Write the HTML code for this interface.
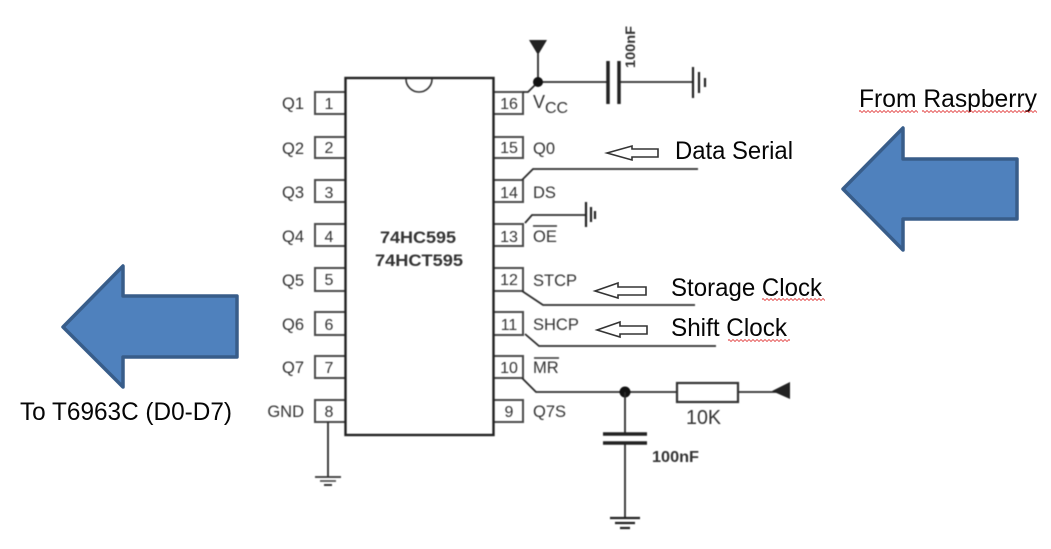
<!DOCTYPE html>
<html>
<head>
<meta charset="utf-8">
<style>
html,body{margin:0;padding:0;background:#fff}
svg{display:block}
.sch{font-family:"Liberation Sans",sans-serif;fill:#333;font-size:16.5px}
.n{font-size:16px;text-anchor:middle}
.c{font-family:"Liberation Sans",sans-serif;fill:#050505;font-size:25px}
.w{fill:none;stroke:#2c2c2c;stroke-width:1.8}
.p{fill:#fff;stroke:#4a4a4a;stroke-width:2}
.g{fill:none;stroke:#222;stroke-width:2.2}
.ar{fill:#fff;stroke:#333;stroke-width:1.6;stroke-linejoin:miter}
.big{fill:#4f81bd;stroke:#385d8a;stroke-width:3.5;stroke-linejoin:round}
.sq{stroke:#d22;stroke-width:1;stroke-dasharray:2 2;fill:none}
.soft{filter:blur(0.4px)}
</style>
</head>
<body>
<svg width="1051" height="549" viewBox="0 0 1051 549" xmlns="http://www.w3.org/2000/svg">
<rect width="1051" height="549" fill="#fff"/>

<g class="soft">
<!-- pin boxes left -->
<path class="p" d="M345 92H315V114H345M345 137H315V158H345M345 180H315V202H345M345 224H315V246H345M345 268H315V291H345M345 312H315V335H345M345 356H315V378H345M345 400H315V422H345"/>
<!-- pin boxes right -->
<path class="p" d="M493 92H523V114H493M493 137H523V158H493M493 180H523V202H493M493 224H523V246H493M493 268H523V291H493M493 312H523V335H493M493 356H523V378H493M493 400H523V422H493"/>
<!-- chip -->
<rect x="345.5" y="78" width="148" height="357" fill="#fff" stroke="#222" stroke-width="2.4"/>
<path d="M406 79A13 13 0 0 0 432 79" fill="none" stroke="#333" stroke-width="1.6"/>

<text x="380" y="243" class="sch" style="font-size:17px;font-weight:bold" textLength="76" lengthAdjust="spacingAndGlyphs">74HC595</text>
<text x="375" y="266" class="sch" style="font-size:17px;font-weight:bold" textLength="88" lengthAdjust="spacingAndGlyphs">74HCT595</text>

<!-- left labels -->
<g class="sch" text-anchor="end">
<text x="304" y="109">Q1</text>
<text x="304" y="154">Q2</text>
<text x="304" y="198">Q3</text>
<text x="304" y="242">Q4</text>
<text x="304" y="286">Q5</text>
<text x="304" y="330">Q6</text>
<text x="304" y="373">Q7</text>
<text x="304" y="417">GND</text>
</g>
<g class="sch">
<text class="n" x="329" y="109">1</text>
<text class="n" x="329" y="153">2</text>
<text class="n" x="329" y="198">3</text>
<text class="n" x="329" y="242">4</text>
<text class="n" x="329" y="285">5</text>
<text class="n" x="329" y="330">6</text>
<text class="n" x="329" y="373">7</text>
<text class="n" x="329" y="417">8</text>
<text class="n" x="509" y="109">16</text>
<text class="n" x="509" y="153">15</text>
<text class="n" x="509" y="198">14</text>
<text class="n" x="509" y="242">13</text>
<text class="n" x="509" y="285">12</text>
<text class="n" x="509" y="330">11</text>
<text class="n" x="509" y="373">10</text>
<text class="n" x="509" y="417">9</text>
</g>

<!-- right labels -->
<g class="sch">
<text x="533" y="108" style="font-size:18px">V</text>
<text x="545" y="113" style="font-size:16px">CC</text>
<text x="533" y="154">Q0</text>
<text x="533" y="198">DS</text>
<text x="533" y="242">OE</text>
<text x="533" y="286">STCP</text>
<text x="533" y="330">SHCP</text>
<text x="533" y="373">MR</text>
<text x="533" y="417">Q7S</text>
</g>
<path d="M533 226H557M534 358H559" stroke="#333" stroke-width="1.5"/>

<!-- VCC -->
<path class="w" d="M523 92H528L538 82M538 54V82M538 82H607M619 82H693"/>
<path d="M529 40H547L538 55Z" fill="#222"/>
<circle cx="538" cy="82" r="5" fill="#111"/>
<path d="M608 61V104M619 61V104" stroke="#222" stroke-width="3.5"/>
<path class="g" d="M693 67V98"/><path class="g" d="M699 72V93"/><path class="g" d="M705 78V87"/>
<text transform="translate(635,68) rotate(-90)" class="sch" style="font-size:14px;font-weight:bold" textLength="42" lengthAdjust="spacingAndGlyphs">100nF</text>

<!-- DS -->
<path class="w" d="M522 180L533 169H698"/>
<!-- OE -->
<path class="w" d="M525 223L532 215H586"/>
<path class="g" d="M586 202V227"/><path class="g" d="M591 207V222"/><path class="g" d="M595 211V219"/>
<!-- STCP -->
<path class="w" d="M522 291L543 305H695"/>
<!-- SHCP -->
<path class="w" d="M525 334L539 346H716"/>
<!-- MR -->
<path class="w" d="M522 378L536 392H677M738 392H778"/>
<circle cx="625" cy="392" r="5.5" fill="#111"/>
<rect x="677" y="383" width="61" height="19" fill="#fff" stroke="#333" stroke-width="2.2"/>
<path d="M772 391L790 382V399Z" fill="#222"/>
<text x="686" y="424" class="sch" style="font-size:20px" textLength="35" lengthAdjust="spacingAndGlyphs">10K</text>
<path class="w" d="M625 392V434M625 443V517"/>
<path d="M603 434H647M603 443H647" stroke="#222" stroke-width="3.5"/>
<path class="g" d="M610 518H640"/><path class="g" d="M615 523H635"/><path class="g" d="M620 528H630"/>
<text x="652" y="462" class="sch" style="font-size:15.5px;font-weight:bold" textLength="47" lengthAdjust="spacingAndGlyphs">100nF</text>

<!-- pin 8 gnd -->
<path class="w" d="M328 422V477"/>
<path d="M315 477H341" stroke="#333" stroke-width="1.8"/>
<path d="M320 481H336" stroke="#444" stroke-width="1.6"/>
<path d="M324 485H332" stroke="#222" stroke-width="1.8"/>
</g>

<!-- small hollow arrows -->
<path class="ar" d="M607 153L632 146V149H658V157H632V160Z"/>
<path class="ar" d="M595 291L618 283V287H646V295H618V298Z"/>
<path class="ar" d="M597 330L620 322V326H647V334H620V337Z"/>

<!-- callout text -->
<text class="c" x="675" y="159" textLength="118" lengthAdjust="spacingAndGlyphs">Data Serial</text>
<text class="c" x="671" y="296" textLength="151" lengthAdjust="spacingAndGlyphs">Storage Clock</text>
<text class="c" x="671" y="336" textLength="116" lengthAdjust="spacingAndGlyphs">Shift Clock</text>
<text class="c" x="859" y="107" textLength="178" lengthAdjust="spacingAndGlyphs">From Raspberry</text>
<text class="c" x="20" y="420" textLength="212" lengthAdjust="spacingAndGlyphs">To T6963C (D0-D7)</text>

<!-- squiggles -->
<path class="sq" d="M762 299H825M728 340H790M859 111H918M922 111H1037"/>
<path class="sq" stroke-dashoffset="2" d="M762 300H825M728 341H790M859 112H918M922 112H1037"/>

<!-- big arrows -->
<path class="big" d="M843 189L903 128V159H1017V219H903V250Z"/>
<path class="big" d="M63 327L123 266V296H237V357H123V387Z"/>
</svg>
</body>
</html>
